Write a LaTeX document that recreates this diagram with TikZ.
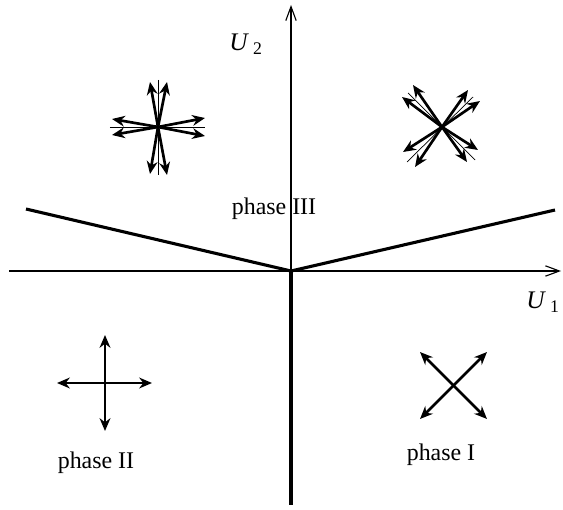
\documentclass[tikz,border=0pt]{standalone}
\usepackage{fontspec}
\setmainfont{Liberation Serif}
\usetikzlibrary{arrows.meta}
\tikzset{
  axisline/.style={line width=0.8pt, -{Straight Barb[length=3.5mm,width=2.6mm]}},
  guideline/.style={line width=0.5pt},
  phaseline/.style={line width=2.2pt},
  spinarrow/.style={line width=1.9pt, -{Stealth[length=3.2mm,width=2.7mm]}},
  spinboth/.style={line width=1.9pt, {Stealth[length=3.2mm,width=2.7mm]}-{Stealth[length=3.2mm,width=2.7mm]}},
  phaselabel/.style={font=\fontsize{17}{20}\selectfont, inner sep=0pt},
  axislabel/.style={font=\fontsize{18}{22}\selectfont, inner sep=0pt},
}

\begin{document}
\begin{tikzpicture}[x=0.025cm, y=-0.025cm]
  \useasboundingbox (0,0) rectangle (563,510);

  % axes and phase boundaries
  \coordinate (O) at (291,271);
  \coordinate (xstart) at (9,271);
  \coordinate (xend) at (561,271);
  \coordinate (ytop) at (291,5);
  \coordinate (ybot) at (291,505);
  \coordinate (bleft) at (26,209);
  \coordinate (bright) at (555,210);

  \draw[axisline] (xstart) -- (xend);
  \draw[axisline] (O) -- (ytop);
  \draw[phaseline] (O) -- (ybot);
  \draw[phaseline, line join=miter] (bleft) -- (O) -- (bright);

  \node[axislabel] (u2) at (246,44) {\textit{U}\,\textsubscript{2}};
  \node[axislabel] (u1) at (543,302) {\textit{U}\,\textsubscript{1}};

  % phase III, canted spins
  \coordinate (starA) at (158,127);
  \draw[guideline] ([xshift=-1.2cm]starA) -- ([xshift=1.18cm]starA);
  \draw[guideline] ([yshift=1.18cm]starA) -- ([yshift=-1.2cm]starA);
  \foreach \dx/\dy in {-8/-45, 9/-45, -8/47, 9/48, -46/-8, -46/8, 47/-9, 47/9}
    \draw[spinarrow] (starA) -- ++(\dx,\dy);

  \coordinate (starB) at (442,127);
  \draw[guideline] (starB) ++(-34,-34) -- ++(67,67);
  \draw[guideline] (starB) ++(-35,35) -- ++(66,-65);
  \foreach \dx/\dy in {-29/-42, -40/-30, 26/-37, 38/-26, -39/25, -27/40, 25/35, 36/23}
    \draw[spinarrow] (starB) -- ++(\dx,\dy);

  % phase II and phase I
  \coordinate (crossC) at (105,383);
  \draw[spinboth] (crossC) ++(-48,0) -- ++(95,0);
  \draw[spinboth] (crossC) ++(0,-48) -- ++(0,96);

  \coordinate (crossD) at (453,385);
  \draw[spinboth] (crossD) ++(-33,-33) -- ++(67,67);
  \draw[spinboth] (crossD) ++(-33,34) -- ++(67,-67);

  \node[phaselabel] (p3) at (274,209) {phase III};
  \node[phaselabel] (p2) at (96,463) {phase II};
  \node[phaselabel] (p1) at (441,455) {phase I};
\end{tikzpicture}
\end{document}
